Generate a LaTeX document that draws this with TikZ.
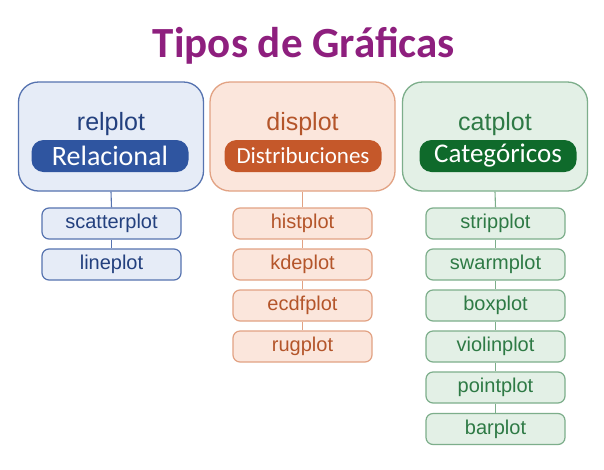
\documentclass[tikz,border=0pt]{standalone}
\usepackage{fontspec}
\setmainfont{Liberation Sans}
\newfontfamily\calib{Carlito}
\definecolor{ttl}{HTML}{8E1F7E}
\definecolor{bbord}{HTML}{5673B0}
\definecolor{bfill}{HTML}{E6ECF7}
\definecolor{bpill}{HTML}{2F55A0}
\definecolor{btext}{HTML}{23407E}
\definecolor{oboard}{HTML}{E2A283}
\definecolor{ofill}{HTML}{FBE6DC}
\definecolor{opill}{HTML}{C5582A}
\definecolor{otext}{HTML}{B4552A}
\definecolor{gbord}{HTML}{7DAE8B}
\definecolor{gfill}{HTML}{E3F0E6}
\definecolor{gpill}{HTML}{0F6A2B}
\definecolor{gtext}{HTML}{2E7A45}
\tikzset{
  outerbox/.style={draw=#1, line width=1.3pt, rounded corners=20pt, minimum width=185pt, minimum height=109pt, inner sep=0pt},
  pillbox/.style={fill=#1, rounded corners=12pt, minimum width=157pt, minimum height=32pt, inner sep=0pt, text=white},
  subbox/.style={draw=#1, line width=1.2pt, rounded corners=7pt, minimum width=139pt, minimum height=31pt, inner sep=0pt, font=\fontsize{20}{23}\selectfont},
  headtxt/.style={anchor=base, inner sep=0pt, font=\fontsize{25}{29}\selectfont},
  conn/.style={draw=#1, line width=1.1pt}
}
\begin{document}
\begin{tikzpicture}[x=1pt,y=-1pt]
\useasboundingbox[fill=white] (0,0) rectangle (604,469);
\node[anchor=base, inner sep=0pt, text=ttl, font=\calib\bfseries\fontsize{43}{48}\selectfont] (title) at (304,57) {Tipos de Gráficas};
% blue column
\node[outerbox=bbord, fill=bfill] (rel) at (111,136.5) {};
\node[headtxt, text=btext] (relh) at (111,130) {relplot};
\node[pillbox=bpill, font=\calib\fontsize{28}{31}\selectfont] (relp) at (110,156) {Relacional};
\node[subbox=bbord, fill=bfill, text=btext] (rel1) at (111.5,223.5) {scatterplot};
\node[subbox=bbord, fill=bfill, text=btext] (rel2) at (111.5,264.5) {lineplot};
\draw[conn=bbord] (rel.south) -- (rel1.north);
\draw[conn=bbord] (rel1.south) -- (rel2.north);
% orange column
\node[outerbox=oboard, fill=ofill] (dis) at (302.5,136.5) {};
\node[headtxt, text=otext] (dish) at (302.5,130) {displot};
\node[pillbox=opill, font=\calib\fontsize{23}{26}\selectfont] (disp) at (303,156) {Distribuciones};
\node[subbox=oboard, fill=ofill, text=otext] (dis1) at (302.5,223.5) {histplot};
\node[subbox=oboard, fill=ofill, text=otext] (dis2) at (302.5,264.5) {kdeplot};
\node[subbox=oboard, fill=ofill, text=otext] (dis3) at (302.5,305.5) {ecdfplot};
\node[subbox=oboard, fill=ofill, text=otext] (dis4) at (302.5,346.5) {rugplot};
\draw[conn=oboard] (dis.south) -- (dis1.north);
\draw[conn=oboard] (dis1.south) -- (dis2.north);
\draw[conn=oboard] (dis2.south) -- (dis3.north);
\draw[conn=oboard] (dis3.south) -- (dis4.north);
% green column
\node[outerbox=gbord, fill=gfill] (cat) at (495,136.5) {};
\node[headtxt, text=gtext] (cath) at (495,130) {catplot};
\node[pillbox=gpill, font=\calib\fontsize{27}{30}\selectfont] (catp) at (498,156) {Categóricos};
\node[subbox=gbord, fill=gfill, text=gtext] (cat1) at (495.5,223.5) {stripplot};
\node[subbox=gbord, fill=gfill, text=gtext] (cat2) at (495.5,264.5) {swarmplot};
\node[subbox=gbord, fill=gfill, text=gtext] (cat3) at (495.5,305.5) {boxplot};
\node[subbox=gbord, fill=gfill, text=gtext] (cat4) at (495.5,346.5) {violinplot};
\node[subbox=gbord, fill=gfill, text=gtext] (cat5) at (495.5,387.5) {pointplot};
\node[subbox=gbord, fill=gfill, text=gtext] (cat6) at (495.5,429) {barplot};
\draw[conn=gbord] (cat.south) -- (cat1.north);
\draw[conn=gbord] (cat1.south) -- (cat2.north);
\draw[conn=gbord] (cat2.south) -- (cat3.north);
\draw[conn=gbord] (cat3.south) -- (cat4.north);
\draw[conn=gbord] (cat4.south) -- (cat5.north);
\draw[conn=gbord] (cat5.south) -- (cat6.north);
\end{tikzpicture}
\end{document}
